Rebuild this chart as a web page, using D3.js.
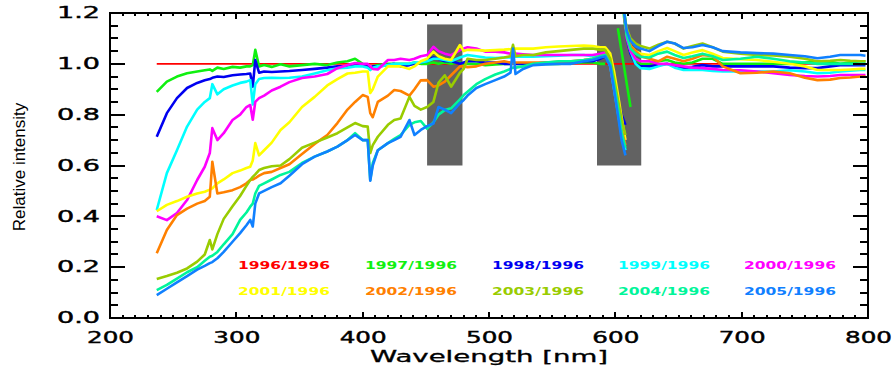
<!DOCTYPE html>
<html>
<head>
<meta charset="utf-8">
<script src="https://cdn.jsdelivr.net/npm/d3@7"></script>
<style>
  body { margin: 0; background: #fff; }
  svg { display: block; }
</style>
</head>
<body>
<div class="chart"></div>
<script>
// wavelength grid, channel A (UV/blue part) and channel B (red part)
const wlA = [237,245,253,261,269, 275,279,281,285,290, 297,303,308,311,313, 315,318,322,328,335,
  342,352,362,372,380, 388,394,400,404,406, 408,412,420,425,430, 437,441,446,451,456,
  460,465,470,477,480, 483,490,497,505,512, 517,519,521,527,535, 545,555,565,575,582,
  588,592,596,599,602, 605,608,610,612];
const wlB = [603,607,609,612,616,620,627,634,641,647,654,661,669,677,685,699,712,725,738,750,760,770,778,786,794,798];
const wlRed = [237, 798];

const y1996 = [1, 1];

const y1997a = [.89,.93,.95,.963,.97, .975,.978,.972,.985,.98, .988,.985,.99,.99,.995, 1.055,.99,.995,.988,.998,
  .99,.995,1.0,.995,1.005, 1.01,1.02,1.0,.99,.985, .99,.995,1.0,1.0,1.0, 1.0,1.005,1.0,1.0,1.005,
  1.0,1.005,1.0,1.005,1.0, 1.0,1.0,.995,.998,1.0, 1.0,1.005,1.0,1.0,1.0, 1.0,1.0,1.003,1.005,1.005,
  1.0,1.0,null,null,1.14, 1.047,.954,.892,.83];
const y1998a = [.713,.806,.865,.905,.925, .935,.94,.945,.95,.948, .955,.958,.96,.962,.91, 1.015,.965,.97,.968,.97,
  .972,.976,.98,.985,.99, .99,.993,.995,.99,.985, .99,.99,.995,1.0,.99, .995,1.0,1.005,1.01,1.025,
  1.02,1.01,1.01,1.0,1.005, 1.01,1.01,1.005,1.005,1.0, 1.0,1.005,1.0,1.0,1.0, 1.005,1.005,1.005,1.01,1.01,
  1.02,1.03,1.0,.93,.86, .8,.76,null,null];
const y1999a = [.425,.57,.66,.753,.82, .85,.865,.92,.88,.9, .915,.925,.93,.936,.84, .92,.94,.944,.945,.944,
  .945,.95,.962,.975,.983, .985,.99,.99,.985,.975, .985,.99,.995,1.0,1.0, 1.0,1.005,1.005,1.01,1.02,
  1.02,1.015,1.01,1.025,1.03, 1.035,1.03,1.025,1.023,1.025, 1.025,1.03,1.028,1.028,1.028, 1.03,1.032,1.035,1.035,1.03,
  1.035,1.04,.99,.9,.81, .72,.66,null,null];
const y2000a = [.40,.385,.413,.464,.543, .595,.649,.747,.70,.727, .779,.80,.83,.838,.78, .85,.865,.875,.895,.91,
  .928,.944,.95,.96,.983, .995,1.003,1.0,1.0,.99, .98,.978,1.015,1.015,1.02, 1.015,1.02,1.03,1.035,1.067,
  1.05,1.04,1.034,1.054,1.06, 1.065,1.06,1.048,1.048,1.045, 1.04,1.04,1.04,1.038,1.035, 1.035,1.035,1.035,1.035,1.035,
  1.04,1.045,.995,.91,.82, .75,.70,null,null];
const y2001a = [.42,.445,.46,.477,.49, .497,.505,.51,.53,.545, .57,.58,.59,.595,.62, .688,.64,.66,.69,.74,
  .77,.83,.87,.915,.94, .962,.965,.97,.97,.885, .9,.95,.99,.99,.99, .98,.99,1.01,1.02,1.048,
  1.03,1.02,1.015,1.074,1.05, 1.055,1.054,1.052,1.054,1.056, 1.058,1.06,1.06,1.06,1.06, 1.065,1.068,1.07,1.072,1.07,
  1.065,1.065,1.04,.97,.88, .79,.70,null,null];
const y2002a = [.255,.346,.405,.43,.45, .46,.477,.615,.49,.495, .503,.515,.53,.543,.545, .55,.56,.57,.575,.59,
  .605,.645,.685,.72,.767, .82,.85,.877,.87,.806, .79,.85,.875,.897,.893, .875,.9,.935,.936,.91,
  .915,.93,.955,.99,.99, .987,.99,1.0,1.005,1.01, 1.005,1.0,1.005,1.005,1.005, 1.005,1.008,1.01,1.015,1.02,
  1.03,1.035,1.0,.92,.83, .74,.68,null,null];
const y2003a = [.153,.165,.178,.195,.222, .25,.307,.27,.33,.39, .44,.48,.52,.543,.555, .565,.582,.59,.597,.60,
  .625,.67,.69,.71,.727, .75,.767,.755,.753,.649, .68,.713,.76,.779,.785, .87,.835,.82,.83,.85,
  .925,.955,.91,.965,.98, 1.02,1.015,1.015,1.02,1.025, 1.03,1.075,1.03,1.035,1.035, 1.045,1.05,1.055,1.06,1.06,
  1.055,1.055,1.02,.94,.86, .78,.72,null,null];
const y2004a = [.11,.13,.155,.18,.2, .225,.241,.245,.26,.29, .33,.386,.415,.438,.45, .49,.52,.53,.545,.563,
  .575,.61,.635,.655,.674, .7,.727,.70,.70,.543, .61,.66,.688,.705,.72, .76,.77,.775,.745,.77,
  .8,.818,.825,.86,.877, .89,.92,.94,.958,.97, .98,.985,.985,.99,1.0, 1.005,1.01,1.01,1.015,1.02,
  1.03,1.035,1.0,.92,.83, .73,.67,null,null];
const y2005a = [.09,.115,.14,.165,.19, .205,.216,.22,.235,.26, .3,.334,.365,.386,.36, .45,.49,.5,.515,.53,
  .56,.605,.635,.655,.674, .7,.72,.70,.70,.54, .6,.66,.688,.70,.713, .779,.72,.74,.755,.765,
  .83,.82,.806,.845,.858, .875,.905,.92,.936,.95, .965,1.06,.96,.98,.995, .998,1.0,1.0,1.01,1.015,
  1.025,1.03,.99,.9,.8, .7,.64,null,null];

const y1997b = [1.4,1.18,1.1,1.05,1.02,1.0,1.0,1.01,1.015,1.005,1.0,1.005,1.02,1.02,1.0,1.0,1.0,1.0,1.0,1.005,1.01,1.008,1.0,1.005,1.01,1.01];
const y1998b = [1.4,1.2,1.1,1.04,1.0,.99,.99,.995,1.0,.99,.983,.988,.995,.99,.99,.99,.99,.99,.985,.983,.983,.99,.995,.995,.995,.995];
const y1999b = [1.4,1.22,1.12,1.05,1.0,.983,.98,.99,1.0,.985,.976,.976,.976,.972,.97,.97,.97,.97,.975,.97,.963,.965,.97,.973,.976,.976];
const y2000b = [1.4,1.2,1.1,1.05,1.02,1.01,1.01,1.0,1.0,.995,.99,.985,.983,.98,.976,.975,.97,.963,.956,.952,.95,.952,.956,.956,.956,.956];
const y2001b = [1.4,1.2,1.12,1.07,1.05,1.04,1.035,1.05,1.062,1.05,1.035,1.045,1.054,1.04,1.023,1.018,1.015,1.008,1.0,.99,.976,.976,.976,.978,.98,.98];
const y2002b = [1.4,1.2,1.12,1.07,1.05,1.03,1.02,1.01,1.028,1.02,1.01,1.02,1.035,1.03,.99,.963,.965,.97,.963,.945,.936,.938,.944,.946,.95,.95];
const y2003b = [1.4,1.2,1.14,1.1,1.08,1.07,1.06,1.075,1.087,1.08,1.06,1.07,1.08,1.065,1.048,1.04,1.035,1.033,1.028,1.02,1.01,1.012,1.015,1.012,1.01,1.01];
const y2004b = [1.4,1.2,1.11,1.06,1.04,1.028,1.025,1.04,1.048,1.035,1.023,1.03,1.04,1.03,1.015,1.02,1.028,1.02,1.01,1.005,1.0,1.0,1.0,1.0,1.0,1.0];
const y2005b = [1.4,1.2,1.13,1.09,1.07,1.06,1.05,1.07,1.087,1.08,1.062,1.065,1.074,1.065,1.05,1.045,1.042,1.04,1.035,1.03,1.022,1.028,1.035,1.035,1.035,1.032];

const labels = ["1996/1996","1997/1996","1998/1996","1999/1996","2000/1996",
  "2001/1996","2002/1996","2003/1996","2004/1996","2005/1996"];
const colors = ["#ff0000","#10f010","#0000f0","#00ffff","#ff00ff",
  "#ffff00","#ff8000","#99cc00","#00f59a","#1080ff"];

// shaded wavelength bands
const bandFrom = [451, 585.5];
const bandTo = [479, 620.5];
const bandLow = 0.6, bandHigh = 1.155;

const yTicks = [0, 0.2, 0.4, 0.6, 0.8, 1.0, 1.2];
const yTickLabels = ["0.0","0.2","0.4","0.6","0.8","1.0","1.2"];
const xTicks = [200, 300, 400, 500, 600, 700, 800];

const margin = { top: 13, right: 27, bottom: 54, left: 110 };
const width = 895 - margin.left - margin.right;
const height = 372 - margin.top - margin.bottom;

const svg = d3.select('.chart')
    .append('svg')
    .attr("width", width + margin.left + margin.right)
    .attr("height", height + margin.top + margin.bottom)
    .style("background", "#fff")
    .append("g")
    .attr("transform", "translate(" + margin.left + "," + margin.top + ")");

const x = d3.scaleLinear().domain([200, 800]).range([0, width]);
const y = d3.scaleLinear().domain([0, 1.2]).range([height, 0]);

svg.append("clipPath").attr("id", "plot")
    .append("rect").attr("width", width).attr("height", height);

// gray bands
svg.selectAll(".band")
    .data(bandFrom)
    .enter()
    .append("rect")
    .attr("class", "band")
    .attr("x", (d, i) => x(d))
    .attr("width", (d, i) => x(bandTo[i]) - x(d))
    .attr("y", y(bandHigh))
    .attr("height", y(bandLow) - y(bandHigh))
    .style("fill", "#626262");

// series: each one made of one or two channel pieces
const series = [
  { parts: [[wlRed, y1996]] },
  { parts: [[wlA, y1997a], [wlB, y1997b]] },
  { parts: [[wlA, y1998a], [wlB, y1998b]] },
  { parts: [[wlA, y1999a], [wlB, y1999b]] },
  { parts: [[wlA, y2000a], [wlB, y2000b]] },
  { parts: [[wlA, y2001a], [wlB, y2001b]] },
  { parts: [[wlA, y2002a], [wlB, y2002b]] },
  { parts: [[wlA, y2003a], [wlB, y2003b]] },
  { parts: [[wlA, y2004a], [wlB, y2004b]] },
  { parts: [[wlA, y2005a], [wlB, y2005b]] }
];

const line = d3.line()
    .defined(d => d[1] != null)
    .x(d => x(d[0]))
    .y(d => y(d[1]));

const curves = svg.append("g").attr("clip-path", "url(#plot)");
series.forEach((s, i) => {
    s.parts.forEach(p => {
        const pts = p[0].map((w, k) => [w, p[1][k]]);
        curves.append("path")
            .attr("d", line(pts))
            .style("fill", "none")
            .style("stroke", colors[i])
            .style("stroke-width", i == 0 ? 1.6 : 2.6)
            .style("stroke-linejoin", "round");
    });
});

// tick labels from the axes
const tickFont = "'DejaVu Sans', sans-serif";

const yAxis = svg.append('g')
    .call(d3.axisLeft(y).tickValues(yTicks).tickSize(0).tickPadding(10)
        .tickFormat((d, i) => yTickLabels[i]));
yAxis.selectAll("text")
    .attr("textLength", 43).attr("lengthAdjust", "spacingAndGlyphs")
    .style("font-family", tickFont).style("font-size", "15px")
    .style("stroke", "#000").style("stroke-width", 0.4);

const xAxis = svg.append('g')
    .attr('transform', 'translate(0,' + height + ')')
    .call(d3.axisBottom(x).tickValues(xTicks).tickSize(0).tickPadding(14)
        .tickFormat(d3.format("d")));
xAxis.selectAll("text")
    .attr("textLength", 47).attr("lengthAdjust", "spacingAndGlyphs")
    .style("font-family", tickFont).style("font-size", "15px")
    .style("stroke", "#000").style("stroke-width", 0.4);

svg.selectAll(".domain").remove();

// inward tick marks on all four sides
const yMinor = d3.range(0, 1.2001, 0.05);
const xMinor = d3.range(200, 801, 10);

const tickG = svg.append("g");
for (const v of yMinor) {
    const len = yTicks.some(t => Math.abs(t - v) < 1e-6) ? 15 : 8;
    tickG.append("line").attr("x1", 0).attr("x2", len).attr("y1", y(v)).attr("y2", y(v));
    tickG.append("line").attr("x1", width).attr("x2", width - len).attr("y1", y(v)).attr("y2", y(v));
}
for (const v of xMinor) {
    const len = v % 100 == 0 ? 6 : 3;
    tickG.append("line").attr("x1", x(v)).attr("x2", x(v)).attr("y1", height).attr("y2", height - len);
    tickG.append("line").attr("x1", x(v)).attr("x2", x(v)).attr("y1", 0).attr("y2", len);
}
tickG.selectAll("line")
    .attr("stroke", "#000")
    .attr("stroke-width", 2)
    .attr("shape-rendering", "crispEdges");

svg.append("rect")
    .attr("width", width).attr("height", height)
    .attr("fill", "none").attr("stroke", "#000").attr("stroke-width", 2);

// axis titles
svg.append("text")
    .attr("x", x(500)).attr("y", height + 44)
    .attr("text-anchor", "middle")
    .attr("textLength", 238).attr("lengthAdjust", "spacingAndGlyphs")
    .style("font-family", tickFont).style("font-size", "15px")
    .style("stroke", "#000").style("stroke-width", 0.3)
    .text("Wavelength [nm]");

svg.append("text")
    .attr("transform", "translate(" + (-85) + "," + 154 + ") rotate(-90)")
    .attr("text-anchor", "middle")
    .style("font-family", "'Liberation Sans', Arial, sans-serif")
    .style("font-size", "17px")
    .text("Relative intensity");

// legend, two rows of five
const legendX = [238, 365, 492, 618, 744];
const legendY = [269, 295];
svg.selectAll(".legend")
    .data(labels)
    .enter()
    .append("text")
    .attr("class", "legend")
    .attr("x", (d, i) => legendX[i % 5] - margin.left)
    .attr("y", (d, i) => legendY[Math.floor(i / 5)] - margin.top)
    .attr("textLength", 92).attr("lengthAdjust", "spacingAndGlyphs")
    .style("font-family", tickFont).style("font-size", "10px").style("font-weight", "bold")
    .style("fill", (d, i) => colors[i])
    .text(d => d);
</script>
</body>
</html>
